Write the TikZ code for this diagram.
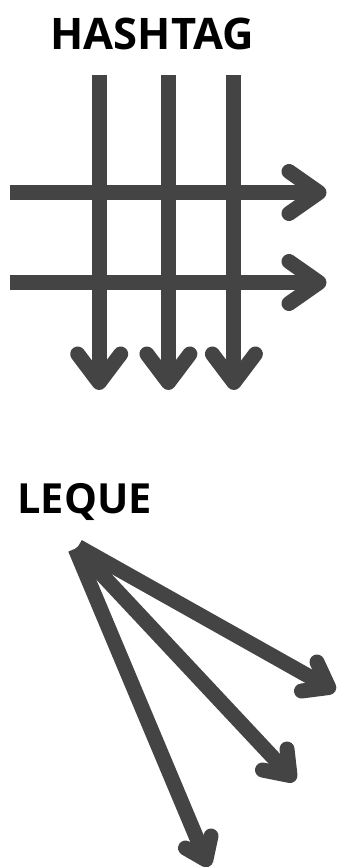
\documentclass[tikz,border=0pt]{standalone}
\usepackage{fontspec}
\setmainfont{Open Sans}
\definecolor{ink}{HTML}{444444}
\begin{document}
\begin{tikzpicture}[x=1pt,y=-1pt,
  shaft/.style={draw=ink,line width=15pt,line cap=butt},
  barb/.style={draw=ink,line width=15pt,line cap=round,line join=round},
  title/.style={font=\bfseries,text=black,inner sep=0pt,anchor=base}]
\useasboundingbox (0,0) rectangle (337,867);
% titles
\node[title,font=\fontsize{43.5}{43.5}\selectfont\bfseries] (hash) at (152.2,49.5) {HASHTAG};
\node[title,font=\fontsize{41.5}{41.5}\selectfont\bfseries] (leque) at (84.5,513.5) {LEQUE};
% hashtag: vertical arrows
\foreach \i/\x in {1/99.2,2/168.4,3/233.9}{
  \coordinate (vs\i) at (\x,75);
  \coordinate (vt\i) at (\x,382.5);
  \coordinate (vl\i) at (\x-21.5,354);
  \coordinate (vr\i) at (\x+21.5,354);
  \path[shaft] (vs\i) -- (vt\i);
  \path[barb] (vl\i) -- (vt\i) -- (vr\i);
}
% hashtag: horizontal arrows
\foreach \i/\y in {1/192.5,2/282.5}{
  \coordinate (hs\i) at (10,\y);
  \coordinate (ht\i) at (319,\y);
  \coordinate (hu\i) at (289,\y-21);
  \coordinate (hd\i) at (289,\y+21);
  \path[shaft] (hs\i) -- (ht\i);
  \path[barb] (hu\i) -- (ht\i) -- (hd\i);
}
% leque (fan)
\coordinate (f1s) at (78.1,546.6);
\coordinate (f2s) at (76.6,547.6);
\coordinate (f3s) at (75.2,548.7);
\coordinate (f1t) at (328.8,687.5);
\coordinate (f2t) at (290,775.5);
\coordinate (f3t) at (205.9,859.8);
\coordinate (f1a) at (317,662);
\coordinate (f1b) at (301.5,691);
\coordinate (f2a) at (287,749);
\coordinate (f2b) at (262.5,770);
\coordinate (f3a) at (211,836);
\coordinate (f3b) at (185.5,848);
\foreach \i in {1,2,3}{
  \path[shaft] (f\i s) -- (f\i t);
  \path[barb] (f\i a) -- (f\i t) -- (f\i b);
}
\end{tikzpicture}
\end{document}
